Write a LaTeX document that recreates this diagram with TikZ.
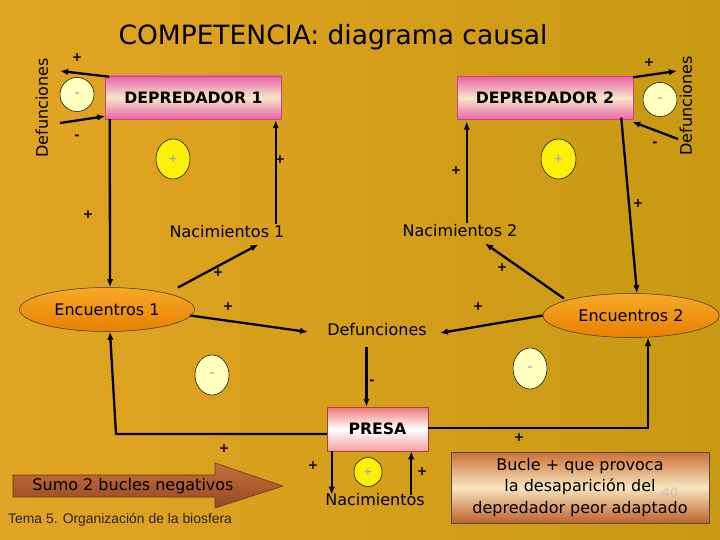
\documentclass[tikz,border=0pt]{standalone}
\usepackage{fontspec}
\setmainfont{DejaVu Sans}
\newfontfamily\arialf{Liberation Sans}
\usetikzlibrary{shapes.geometric,arrows.meta,calc}
\definecolor{bgL}{RGB}{226,164,36}
\definecolor{bgR}{RGB}{200,153,18}
\definecolor{pinkE}{RGB}{232,100,170}
\definecolor{creamM}{RGB}{246,230,198}
\definecolor{pinkB}{RGB}{205,70,130}
\definecolor{presaT}{RGB}{238,120,120}
\definecolor{presaB}{RGB}{242,160,160}
\definecolor{presaD}{RGB}{180,60,60}
\definecolor{oraT}{RGB}{246,168,40}
\definecolor{oraB}{RGB}{232,128,0}
\definecolor{minusF}{RGB}{255,255,190}
\definecolor{plusF}{RGB}{250,240,10}
\definecolor{symG}{RGB}{170,170,170}
\definecolor{brT}{RGB}{196,112,60}
\definecolor{brB}{RGB}{150,72,34}
\definecolor{brD}{RGB}{110,55,25}
\definecolor{bucT}{RGB}{205,112,52}
\definecolor{bucM}{RGB}{246,228,192}
\definecolor{bucB}{RGB}{192,98,40}
\begin{document}
\begin{tikzpicture}[x=1pt,y=-1pt,
  lbl/.style={font=\fontsize{16}{19}\selectfont, inner sep=2pt, text=black},
  boxlbl/.style={font=\fontsize{15.7}{19}\selectfont\bfseries},
  arr/.style={-{Latex[length=8pt,width=6.5pt]}, line width=2.3pt},
  sgn/.style={font=\fontsize{12.5}{14}\selectfont\bfseries, inner sep=0pt},
  depbox/.style={rectangle, minimum width=176pt, minimum height=43pt, top color=pinkE, bottom color=pinkE, middle color=creamM, draw=pinkB, line width=0.5pt, boxlbl},
  encell/.style={ellipse, minimum width=175pt, minimum height=44pt, top color=oraT, bottom color=oraB, draw=black!80, line width=0.5pt, lbl},
  mcirc/.style={ellipse, fill=minusF, draw=black, line width=0.5pt, inner sep=0pt, text=symG, font=\fontsize{11}{11}\selectfont\bfseries},
  pcirc/.style={ellipse, fill=plusF, draw=black, line width=0.5pt, inner sep=0pt, text=symG, font=\fontsize{11}{11}\selectfont\bfseries}
]
\useasboundingbox (0,0) rectangle (720,540);
\shade[left color=bgL, right color=bgR] (0,0) rectangle (720,540);

% title
\node[anchor=base, font=\fontsize{26.5}{30}\selectfont, inner sep=0pt] (title) at (333,45) {COMPETENCIA: diagrama causal};

% main boxes
\node[depbox] (dep1) at (193.5,97.5) {DEPREDADOR 1};
\node[depbox] (dep2) at (545,98) {DEPREDADOR 2};
\node[rectangle, minimum width=101pt, minimum height=44pt, top color=presaT, bottom color=presaB, middle color=white, draw=presaD, line width=0.5pt, boxlbl] (presa) at (377.5,429) {PRESA};

% ellipses
\node[encell] (enc1) at (107,309.5) {Encuentros 1};
\node[encell, minimum width=176pt] (enc2) at (631,315.5) {Encuentros 2};

% text labels
\node[lbl] (nac1) at (227,232) {Nacimientos 1};
\node[lbl] (nac2) at (460,231) {Nacimientos 2};
\node[lbl] (def) at (377,330) {Defunciones};
\node[lbl] (nac) at (375,500) {Nacimientos};
\node[lbl, rotate=90] (defL) at (42,108) {Defunciones};
\node[lbl, rotate=90] (defR) at (686,106) {Defunciones};

% sign circles
\node[mcirc, minimum width=34pt, minimum height=34pt] (m1) at (77,94.5) {–};
\node[mcirc, minimum width=34pt, minimum height=34pt] (m2) at (660,99.5) {–};
\node[mcirc, minimum width=34pt, minimum height=40pt] (m3) at (212,375) {–};
\node[mcirc, minimum width=34pt, minimum height=41pt] (m4) at (530,368.5) {–};
\node[pcirc, minimum width=34pt, minimum height=40pt] (p1) at (173,159) {+};
\node[pcirc, minimum width=35pt, minimum height=40pt] (p2) at (558.5,159) {+};
\node[pcirc, minimum width=28pt, minimum height=29pt] (p3) at (368,472) {+};

% free ends / corners
\coordinate (defLa) at (60,71);
\coordinate (defLb) at (60,123);
\coordinate (defRa) at (677,71);
\coordinate (defRb) at (678,139);
\coordinate (c1) at (116,434);
\coordinate (c2) at (648,428);

% connectors around DEPREDADOR 1
\draw[arr] ($(dep1.north west)+(4,1)$) -- (defLa);
\draw[arr] (defLb) -- ($(dep1.south west)+(0,-3)$);
\draw[arr] ($(dep1.south west)+(4.5,0)$) -- ($(enc1.north)+(3,0)$);
\coordinate (d1r) at ($(dep1.south east)+(-6,1)$);
\draw[arr] (d1r |- nac1.north) -- (d1r);
\draw[arr] ($(enc1.center)+(71,-22)$) -- ($(nac1.south east)+(-28,4)$);
\draw[arr] ($(enc1.center)+(83,6)$) -- ($(def.west)+(-17,2)$);

% connectors around DEPREDADOR 2
\draw[arr] ($(dep2.north east)+(0,1)$) -- (defRa);
\draw[arr] (defRb) -- ($(dep2.south east)+(-1,2)$);
\coordinate (d2l) at ($(dep2.south west)+(10,2)$);
\draw[arr] (d2l |- nac2.north) -- (d2l);
\draw[arr] ($(dep2.south east)+(-12,-2)$) -- ($(enc2.north)+(6,0)$);
\draw[arr] (enc2.west) -- ($(def.east)+(11,3)$);
\draw[arr] ($(enc2.center)+(-67,-17)$) -- ($(nac2.south)+(25,4)$);

% prey connectors
\coordinate (pn) at ($(presa.north)+(-11,0)$);
\draw[arr] ($(pn |- def.south)+(0,9)$) -- (pn);
\coordinate (ps1) at ($(presa.south west)+(5,0)$);
\draw[arr] (ps1) -- ($(ps1 |- nac.north)+(0,3)$);
\coordinate (ps2) at ($(presa.south east)+(-17,0)$);
\draw[arr] ($(ps2 |- nac.north)+(0,3)$) -- (ps2);
\draw[arr] ($(presa.west)+(0,5)$) -- (c1) -- ($(enc1.south)+(3,0)$);
\draw[arr] ($(presa.east)+(0,-1)$) -- (c2) -- ($(enc2.south)+(17,0)$);

% signs
\foreach \p/\s in {(77,58)/+, (77,137)/-, (88,215)/+, (280,160)/+, (218,273)/+, (228,307)/+, (224,449)/+, (313,466)/+, (422,472)/+, (372,382)/-, (478,307)/+, (502,268)/+, (456,171)/+, (638,204)/+, (649,63)/+, (655,144)/-, (519,438)/+}
  \node[sgn] at \p {\s};

% summary arrow
\shade[top color=brT, bottom color=brB, draw=brD, line width=0.6pt]
  (13,475) -- (215,475) -- (215,463) -- (283,486) -- (215,508) -- (215,497) -- (13,497) -- cycle;
\node[lbl] (sumo) at (133,486) {Sumo 2 bucles negativos};

% bucle box
\node[rectangle, minimum width=258pt, minimum height=71pt, top color=bucT, bottom color=bucB, middle color=bucM, draw=black!70, line width=0.5pt, align=center, font=\fontsize{16}{21.5}\selectfont] (bucle) at (580,487.5) {Bucle + que provoca\\la desaparición del\\depredador peor adaptado};
\node[font=\fontsize{13}{13}\selectfont, text=gray!60, opacity=0.5, inner sep=0pt] (num) at (670,493) {40};

% footer
\node[anchor=west, font=\arialf\fontsize{13.9}{16}\selectfont, text=black!85, inner sep=0pt] (foot) at (8,520) {Tema 5. Organización de la biosfera};
\end{tikzpicture}
\end{document}
